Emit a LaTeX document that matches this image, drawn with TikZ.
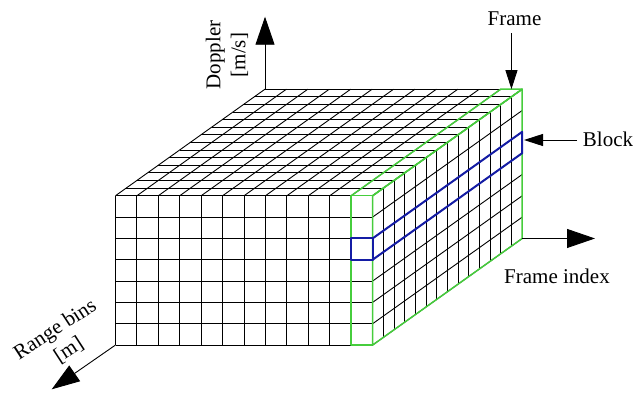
\documentclass[tikz,border=0pt]{standalone}
\usepackage{fontspec}
\setmainfont{Liberation Serif}
\usetikzlibrary{arrows.meta,calc}
\definecolor{frameg}{RGB}{70,205,60}
\definecolor{blockb}{RGB}{20,28,165}
\begin{document}
\begin{tikzpicture}[x=1pt,y=-1pt,
  gridline/.style={line width=0.9pt,black},
  frameline/.style={line width=1.5pt,frameg,line join=round},
  blockline/.style={line width=2pt,blockb,line join=round},
  axis/.style={line width=0.9pt,-{Triangle[length=28pt,width=19pt]}},
  pointer/.style={line width=0.9pt,-{Triangle[length=19pt,width=12pt]}},
  lbl/.style={font=\fontsize{21}{25}\selectfont,inner sep=0pt,align=center}]
\useasboundingbox (0,0) rectangle (637,392);
\def\fx{115.5}\def\fy{195.7}\def\cw{21.43}\def\rh{21.33}\def\dx{10.68}\def\dy{-7.61}
% front face
\foreach \i in {0,...,12} \draw[gridline] ({\fx+\i*\cw},\fy) -- ++(0,7*\rh);
\foreach \j in {0,...,7} \draw[gridline] (\fx,{\fy+\j*\rh}) -- ++(12*\cw,0);
% top face
\foreach \i in {0,...,12} \draw[gridline] ({\fx+\i*\cw},\fy) -- ++(14*\dx,14*\dy);
\foreach \k in {0,...,14} \draw[gridline] ({\fx+\k*\dx},{\fy+\k*\dy}) -- ++(12*\cw,0);
% right face
\foreach \k in {0,...,14} \draw[gridline] ({\fx+12*\cw+\k*\dx},{\fy+\k*\dy}) -- ++(0,7*\rh);
\foreach \j in {0,...,7} \draw[gridline] ({\fx+12*\cw},{\fy+\j*\rh}) -- ++(14*\dx,14*\dy);
% frame (green)
\draw[frameline] ({\fx+11*\cw},\fy) rectangle ++(\cw,7*\rh);
\draw[frameline] ({\fx+11*\cw},\fy) -- ++(14*\dx,14*\dy) -- ++(\cw,0) -- ++(-14*\dx,-14*\dy);
\draw[frameline] ({\fx+12*\cw},\fy) -- ++(14*\dx,14*\dy) -- ++(0,7*\rh) -- ++(-14*\dx,-14*\dy) -- cycle;
% block (blue)
\draw[blockline] ({\fx+11*\cw},{\fy+2*\rh}) rectangle ++(\cw,\rh);
\draw[blockline] ({\fx+12*\cw},{\fy+2*\rh}) -- ++(14*\dx,14*\dy) -- ++(0,\rh) -- ++(-14*\dx,-14*\dy);
% corners and arrow ends
\coordinate (btl) at ({\fx+14*\dx},{\fy+14*\dy});
\coordinate (bbr) at ({\fx+12*\cw+14*\dx},{\fy+7*\rh+14*\dy});
\coordinate (fbl) at (\fx,{\fy+7*\rh});
\coordinate (doptip) at ({\fx+14*\dx},16.7);
\coordinate (idxtip) at (595,{\fy+7*\rh+14*\dy});
\coordinate (rngtip) at (51.7,389.3);
\coordinate (frmtip) at ({\fx+11.5*\cw+14*\dx},{\fy+14*\dy});
\coordinate (frmstart) at ({\fx+11.5*\cw+14*\dx},33);
\coordinate (blktip) at (524,140);
\coordinate (blkstart) at (577,140);
\draw[axis] (btl) -- (doptip);
\draw[axis] (bbr) -- (idxtip);
\draw[axis] (fbl) -- (rngtip);
\draw[pointer] (frmstart) -- (frmtip);
\draw[pointer] (blkstart) -- (blktip);
% labels
\node[lbl,rotate=90] (doppler) at (227,55) {Doppler\\{[m/s]}};
\node[lbl,rotate=33] (range) at (62,340) {Range bins\\{[m]}};
\node[lbl,anchor=base] (frame) at (514.5,25) {Frame};
\node[lbl,anchor=base] (block) at (608,146) {Block};
\node[lbl,anchor=base] (frameindex) at (557,283.3) {Frame index};
\end{tikzpicture}
\end{document}
